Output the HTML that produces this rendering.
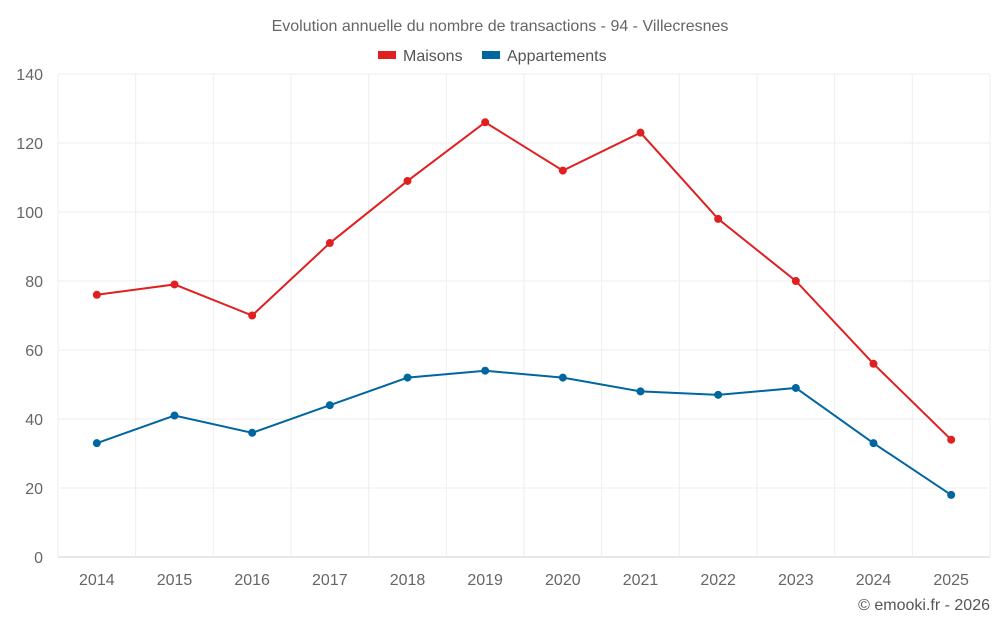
<!DOCTYPE html>
<html><head><meta charset="utf-8"><style>
body{margin:0;background:#fff;font-family:"Liberation Sans",sans-serif;}
svg{display:block}
</style></head><body>
<svg id="chart" width="1000" height="625">
<text x="500" y="31" text-anchor="middle" font-size="16" fill="#666">Evolution annuelle du nombre de transactions - 94 - Villecresnes</text>
<g>
<g><rect x="378" y="51" width="18" height="8" fill="#e02020"/><text x="403" y="61" font-size="16" fill="#555">Maisons</text></g>
<g><rect x="482" y="51" width="18" height="8" fill="#0066a0"/><text x="507" y="61" font-size="16" fill="#555">Appartements</text></g>
</g>
<g id="grid"></g><g id="axes"></g><g id="series"></g>
<text x="990" y="610" text-anchor="end" font-size="16" fill="#555">© emooki.fr - 2026</text>
</svg>
<script>
const categories=["2014","2015","2016","2017","2018","2019","2020","2021","2022","2023","2024","2025"];
const maisons=[76,79,70,91,109,126,112,123,98,80,56,34];
const appartements=[33,41,36,44,52,54,52,48,47,49,33,18];
const yTicks=[0,20,40,60,80,100,120,140];
const L=58,R=990,T=74,B=557,yMax=140;
const bw=(R-L)/categories.length;
const x=i=>L+bw*(i+0.5);
const y=v=>B-(v/yMax)*(B-T);
const NS="http://www.w3.org/2000/svg";
function mk(tag,attrs,parent){const e=document.createElementNS(NS,tag);for(const k in attrs)e.setAttribute(k,attrs[k]);parent.appendChild(e);return e;}
const grid=document.getElementById('grid'),axes=document.getElementById('axes'),ser=document.getElementById('series');
yTicks.forEach(t=>{
  const g=mk('line',{x1:L,x2:R,y1:y(t),y2:y(t),stroke:t===0?'#ccc':'#eee','stroke-width':1},grid);
  
  
  const tx=mk('text',{x:L-15,y:y(t)+6,'text-anchor':'end','font-size':16,fill:'#666'},axes);
  tx.textContent=t;
  
  
});
for(let i=0;i<=categories.length;i++){
  const g=mk('line',{x1:L+bw*i,x2:L+bw*i,y1:T,y2:B,stroke:'#eee','stroke-width':1},grid);
  
  
}
categories.forEach((c,i)=>{
  const tx=mk('text',{x:x(i),y:585,'text-anchor':'middle','font-size':16,fill:'#666'},axes);
  tx.textContent=c;
  
  
});
function draw(data,color,name){
  const p=mk('polyline',{points:data.map((v,i)=>x(i)+','+y(v)).join(' '),fill:'none',stroke:color,'stroke-width':2},ser);
  
  
  data.forEach((v,i)=>{
    const c=mk('circle',{cx:x(i),cy:y(v),r:4,fill:color},ser);
    
    
  });
}
draw(maisons,'#e02020','maisons');
draw(appartements,'#0066a0','appartements');
</script>
</body></html>
